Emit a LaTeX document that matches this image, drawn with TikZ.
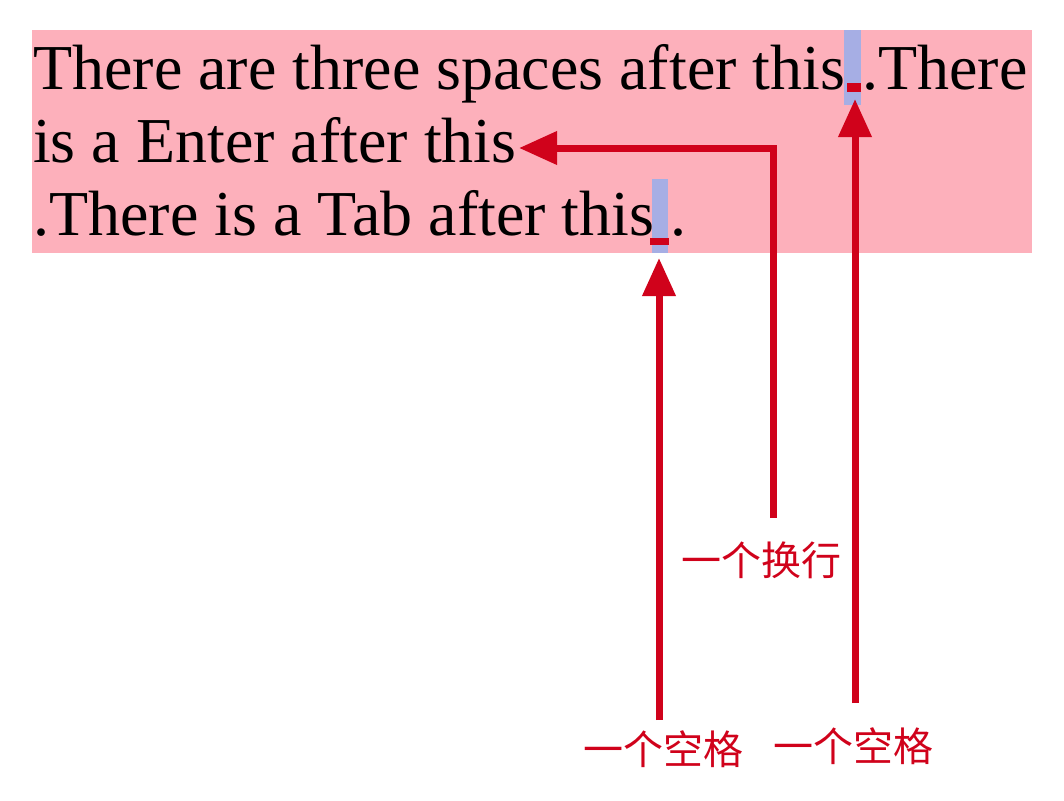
\documentclass[tikz,border=0pt]{standalone}
\usepackage{fontspec}
\setmainfont{Liberation Serif}
\newfontfamily\cjk{Noto Sans CJK SC}
\usetikzlibrary{arrows.meta}
\definecolor{bgpink}{RGB}{253,176,187}
\definecolor{spaceblue}{RGB}{166,174,228}
\definecolor{markred}{RGB}{208,2,27}

\begin{document}
\begin{tikzpicture}[x=1pt,y=-1pt,
    textline/.style={font=\fontsize{64}{72}\selectfont,anchor=base west,inner sep=0pt},
    note/.style={font=\cjk\fontsize{40}{48}\selectfont,text=markred,inner sep=0pt},
    pointer/.style={draw=markred,line width=7pt,-{Triangle[length=38pt,width=32pt]}}]
                \useasboundingbox (0,0) rectangle (1064,800);
                \fill[bgpink] (32,30) rectangle (1032,253);
                \fill[spaceblue] (844,30) rectangle (861,105);
                \fill[spaceblue] (652,179) rectangle (668,253);
                \node[textline] (lineA) at (33,89) {There are three spaces after this};
                \node[textline] (lineAend) at (862,89) {.There};
                \node[textline] (lineB) at (33,162) {is a Enter after this};
                \node[textline] (lineC) at (33,235) {.There is a Tab after this};
                \node[textline] (lineCend) at (670,235) {.};
                \fill[markred] (847,83) rectangle (861,92);
                \fill[markred] (650,238) rectangle (669,245);
                \node[note] (enterlbl) at (761,560) {一个换行};
                \node[note] (spacelbl) at (853,746) {一个空格};
                \node[note] (tablbl) at (663,749) {一个空格};
                \coordinate (enterfoot) at (773,518);
                \coordinate (entertip) at (519,148);
                \coordinate (spacefoot) at (855,703);
                \coordinate (spacetip) at (855,99);
                \coordinate (tabfoot) at (659,720);
                \coordinate (tabtip) at (659,258);
                \draw[pointer] (enterfoot) |- (entertip);
                \draw[pointer] (spacefoot) -- (spacetip);
                \draw[pointer] (tabfoot) -- (tabtip);
            \end{tikzpicture}
\end{document}
